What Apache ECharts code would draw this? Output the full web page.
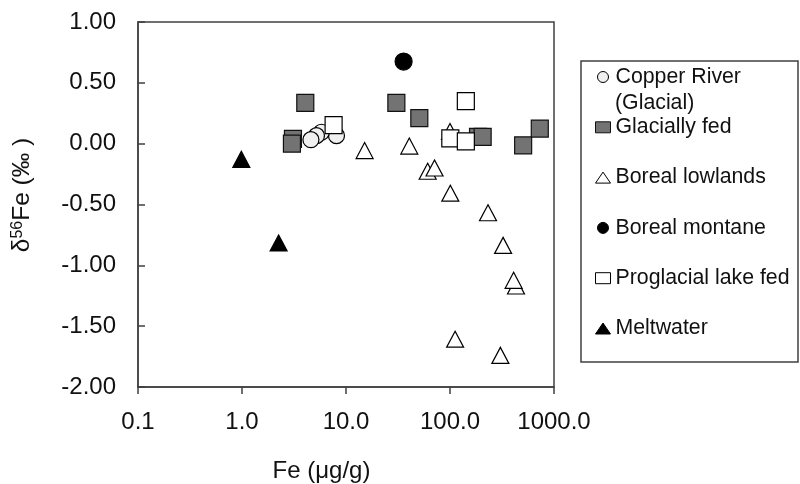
<!DOCTYPE html>
<html>
<head>
<meta charset="utf-8">
<script src="https://cdn.jsdelivr.net/npm/echarts@6/dist/echarts.min.js"></script>
<style>
html,body{margin:0;padding:0;background:#fff;}
#chart{width:800px;height:484px;}
</style>
</head>
<body>
<div id="chart"></div>
<script>
// ---- data (Fe µg/g, δ56Fe ‰) ----
var seriesNames = ['Copper River (Glacial)', 'Glacially fed', 'Boreal lowlands', 'Boreal montane', 'Proglacial lake fed', 'Meltwater'];
var copperRiver = [[8.1, 0.066], [5.8, 0.094], [5.2, 0.066], [4.6, 0.033]];
var glaciallyFed = [[4.06, 0.336], [30.5, 0.336], [50.7, 0.21], [3.09, 0.04], [3.02, 0.0], [186, 0.056], [206, 0.056], [505, -0.014], [730, 0.124]];
var borealLowlands = [[15.1, -0.057], [40.6, -0.02], [100, 0.10], [61, -0.227], [71, -0.2], [100.7, -0.407], [232, -0.568], [324, -0.836], [431, -1.17], [409, -1.123], [112, -1.607], [305, -1.74]];
var borealMontane = [[35.8, 0.675]];
var proglacialLake = [[7.6, 0.153], [142, 0.35], [100.7, 0.043], [142, 0.019]];
var meltwater = [[0.985, -0.129], [2.25, -0.816]];
var xTickValues = [0.1, 1, 10, 100, 1000];
var yTickMin = -2.0, yTickMax = 1.0, yTickStep = 0.5;

var FONT = "'Liberation Sans', Arial, sans-serif";
var chart = echarts.init(document.getElementById('chart'), null, {renderer: 'canvas'});

function sc(name, data, symbol, size, fill, border) {
  return {
    name: name, type: 'scatter', data: data, symbol: symbol, symbolSize: size,
    symbolKeepAspect: true,
    itemStyle: {color: fill, borderColor: border, borderWidth: 1.2, opacity: 1},
    emphasis: {disabled: true}
  };
}

var option = {
  animation: false,
  backgroundColor: '#fff',
  grid: {left: 138, right: 246, top: 22, bottom: 97, containLabel: false, outerBoundsMode: 'none',
    show: true, borderColor: '#404040', borderWidth: 1.5, backgroundColor: 'transparent'},
  xAxis: {
    type: 'log', logBase: 10, min: xTickValues[0], max: xTickValues[xTickValues.length - 1],
    name: 'Fe (\u03bcg/g)', nameLocation: 'middle', nameGap: 72,
    nameTextStyle: {fontFamily: FONT, fontSize: 24, color: '#111', padding: [0, 49, 0, 0]},
    axisLine: {show: true, onZero: false, lineStyle: {color: '#404040', width: 1.5}},
    axisTick: {show: true, inside: false, length: 7, lineStyle: {color: '#404040', width: 1.5}},
    minorTick: {show: false},
    splitLine: {show: false},
    axisLabel: {margin: 23, fontFamily: FONT, fontSize: 24, color: '#111',
      formatter: function (v) { return Number(v).toFixed(1); }}
  },
  yAxis: {
    type: 'value', min: yTickMin, max: yTickMax, interval: yTickStep,
    name: '{a|\u03b4}{s|56}{a|Fe (\u2030 )}', nameLocation: 'middle', nameGap: 103, nameRotate: 90,
    nameTextStyle: {fontFamily: FONT, fontSize: 24.5, color: '#111', padding: [0, 0, 0, 19],
      rich: {a: {fontFamily: FONT, fontSize: 24.5, color: '#111'},
             s: {fontFamily: FONT, fontSize: 16, color: '#111', verticalAlign: 'top', padding: [0, 0, 9, 0]}}},
    axisLine: {show: true, onZero: false, lineStyle: {color: '#404040', width: 1.5}},
    axisTick: {show: true, inside: true, length: 7, lineStyle: {color: '#404040', width: 1.5}},
    splitLine: {show: false},
    axisLabel: {margin: 22, fontFamily: FONT, fontSize: 24, color: '#111',
      formatter: function (v) { return Number(v).toFixed(2); }}
  },
  legend: {
    orient: 'vertical', left: 595, top: 66, padding: 0,
    itemWidth: 15, itemHeight: 11, itemGap: 28.3,
    selectedMode: false,
    itemStyle: {borderWidth: 1},
    textStyle: {fontFamily: FONT, fontSize: 21.3, color: '#111', lineHeight: 22},
    formatter: function (n) { return n === 'Copper River (Glacial)' ? 'Copper River' : n; },
    data: seriesNames
  },
  graphic: [
    {type: 'rect', shape: {x: 581, y: 61, width: 217, height: 301}, style: {fill: 'none', stroke: '#404040', lineWidth: 1.5}, silent: true},
    {type: 'text', x: 615, y: 103, style: {text: '(Glacial)', font: '21.3px ' + FONT, fill: '#111', verticalAlign: 'middle', align: 'left'}, silent: true}
  ],
  series: [
    sc(seriesNames[0], copperRiver, 'circle', 16, '#f0f0f0', '#000'),
    sc(seriesNames[1], glaciallyFed, 'rect', 17, '#737373', '#111'),
    sc(seriesNames[2], borealLowlands, 'triangle', [17, 16], '#fff', '#000'),
    sc(seriesNames[3], borealMontane, 'circle', 17, '#000', '#000'),
    sc(seriesNames[4], proglacialLake, 'rect', 17, '#fff', '#000'),
    sc(seriesNames[5], meltwater, 'triangle', [17, 16], '#000', '#000')
  ]
};
chart.setOption(option);
</script>
</body>
</html>
